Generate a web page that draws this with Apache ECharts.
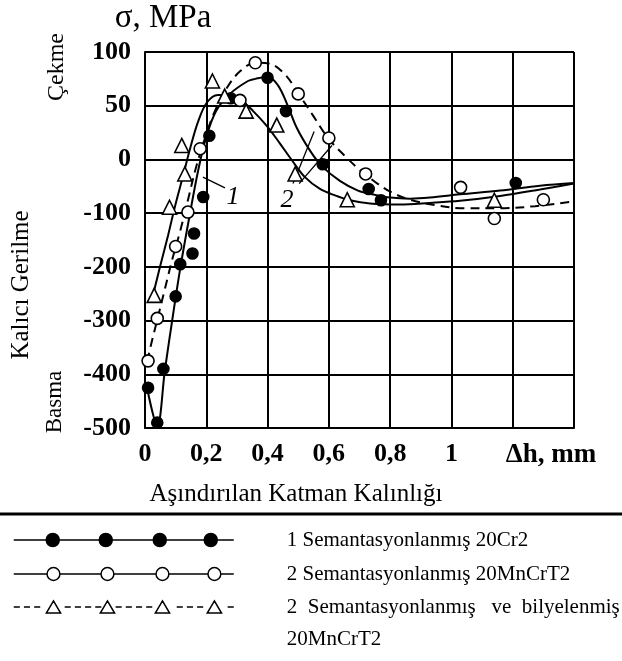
<!DOCTYPE html>
<html>
<head>
<meta charset="utf-8">
<script src="https://cdn.jsdelivr.net/npm/echarts@6/dist/echarts.min.js"></script>
<style>html,body{margin:0;padding:0;background:#fff}#c{width:622px;height:661px}</style>
</head>
<body>
<div id="c"></div>
<script>
// ---------------- data ----------------
const xTickLabels = ['0', '0,2', '0,4', '0,6', '0,8', '1', '', ''];     // at 0,0.2,...,1.4 mm
const yTickValues = [-500, -400, -300, -200, -100, 0, 50, 100];         // evenly spaced on the original axis
const yTickLabels = ['-500', '-400', '-300', '-200', '-100', '0', '50', '100'];

const seriesNames = [
  '1 Semantasyonlanmış 20Cr2',
  '2 Semantasyonlanmış 20MnCrT2',
  '2  Semantasyonlanmış   ve  bilyelenmiş 20MnCrT2'
];
const legendTexts = [
  '1 Semantasyonlanmış 20Cr2',
  '2 Semantasyonlanmış 20MnCrT2',
  ' \n2  Semantasyonlanmış   ve  bilyelenmiş\n20MnCrT2'
];

// measured points [Δh mm, σ MPa]
const cr2Markers = [[0.01,-425],[0.04,-490],[0.06,-390],[0.10,-255],[0.115,-195],[0.155,-175],[0.16,-138],
  [0.19,-70],[0.21,22],[0.28,57],[0.40,76],[0.46,45],[0.58,-9],[0.73,-55],[0.77,-76],[1.21,-44]];
const mncrMarkers = [[0.01,-375],[0.04,-296],[0.10,-162],[0.14,-98],[0.18,10],[0.31,55],[0.36,90],
  [0.50,61],[0.60,20],[0.72,-27],[1.03,-52],[1.14,-110],[1.30,-75]];
const shotMarkers = [[0.03,-253],[0.08,-89],[0.12,13],[0.13,-27],[0.22,73],[0.26,59],[0.33,45],
  [0.43,32],[0.49,-27],[0.66,-75],[1.14,-76]];

// fitted curves [Δh mm, σ MPa]
const cr2Curve = [[0.007,-426],[0.04,-496],[0.065,-392],[0.091,-291],[0.117,-196],[0.147,-100],[0.173,-22],
  [0.199,20],[0.232,45],[0.277,61],[0.336,73],[0.36,75],[0.401,77],[0.434,69],[0.463,52],[0.496,29],
  [0.539,8],[0.578,-13],[0.636,-40],[0.695,-58],[0.751,-66],[0.80,-71],[0.865,-73],[0.93,-71],
  [1.028,-65],[1.159,-58],[1.289,-49],[1.40,-44]];
const mncrCurve = [[0.007,-376],[0.023,-337],[0.042,-294],[0.065,-241],[0.088,-188],[0.114,-135],[0.14,-76],
  [0.166,-16],[0.196,20],[0.228,45],[0.268,67],[0.31,82],[0.359,90],[0.408,89],[0.457,79],[0.499,62],
  [0.548,41],[0.597,20],[0.653,3],[0.702,-20],[0.751,-42],[0.80,-60],[0.865,-75],[0.946,-85],
  [1.044,-91],[1.159,-91],[1.273,-87],[1.40,-78]];
const shotCurve = [[0.026,-253],[0.049,-200],[0.075,-142],[0.098,-87],[0.124,-31],[0.147,10],[0.173,35],
  [0.202,53],[0.238,60],[0.277,59],[0.31,56],[0.353,45],[0.398,31],[0.44,15],[0.48,-2],[0.522,-33],
  [0.571,-55],[0.62,-67],[0.669,-76],[0.734,-82],[0.832,-84],[0.93,-81],[1.028,-77],[1.159,-68],
  [1.289,-56],[1.40,-45]];

// curve annotations (data units)
const curveLabels = [{ text: '1', at: [0.287, -71] }, { text: '2', at: [0.463, -75] }];
const leaderLines = [[[0.261,-53],[0.189,-33]], [[0.483,-45],[0.552,26]], [[0.503,-45],[0.61,13]]];

// ---------------- helpers ----------------
const SERIF = '"Liberation Serif","Times New Roman",serif';
// piecewise-linear mapping of the original (non-uniform) stress axis onto evenly spaced tick slots
function toAxis(v) {
  const t = yTickValues;
  let i = 0;
  if (v >= t[t.length - 1]) i = t.length - 2;
  else { while (i < t.length - 2 && v > t[i + 1]) i++; }
  return i + (v - t[i]) / (t[i + 1] - t[i]);
}
const conv = arr => arr.map(p => [p[0], toAxis(p[1])]);

function circ(cx, cy, r) {
  return `M${cx + r} ${cy} A${r} ${r} 0 1 1 ${cx - r} ${cy} A${r} ${r} 0 1 1 ${cx + r} ${cy} Z `;
}
function legendIcon(kind) {
  const W = 220, cy = 7, cxs = [39, 92, 146, 197];
  let d = '';
  if (kind === 0) {
    d += `M0 ${cy} L${W} ${cy} `;
    cxs.forEach(cx => d += circ(cx, cy, 6.5));
  } else if (kind === 1) {
    const r = 6.3;
    let x0 = 0;
    cxs.forEach(cx => { d += `M${x0} ${cy} L${cx - r} ${cy} `; x0 = cx + r; });
    d += `M${x0} ${cy} L${W - 4} ${cy} `;
    cxs.forEach(cx => d += circ(cx, cy, r));
  } else {
    const hw = 7;
    let x = 0;
    while (x < W - 3) {
      const x2 = Math.min(x + 6, W - 3);
      const blocked = cxs.some(cx => x2 > cx - hw + 1 && x < cx + hw - 1);
      if (!blocked) d += `M${x} ${cy} L${x2} ${cy} `;
      x += 10;
    }
    cxs.forEach(cx => d += `M${cx} 1 L${cx + hw} 13 L${cx - hw} 13 Z `);
  }
  return 'path://' + d;
}

// ---------------- chart ----------------
const chart = echarts.init(document.getElementById('c'), null, { renderer: 'canvas' });

const black = '#000';
const lineDefs = [
  { name: seriesNames[0], data: cr2Curve, type: 'solid' },
  { name: seriesNames[1], data: mncrCurve, type: [9, 6] },
  { name: seriesNames[2], data: shotCurve, type: 'solid' }
];
const markerDefs = [
  { name: seriesNames[0], data: cr2Markers, symbol: 'circle', size: 11, fill: black },
  { name: seriesNames[1], data: mncrMarkers, symbol: 'circle', size: 12, fill: '#fff' },
  { name: seriesNames[2], data: shotMarkers, symbol: 'triangle', size: 14, fill: '#fff' }
];

const series = [];
lineDefs.forEach((d, i) => {
  const s = {
    name: d.name, type: 'line', data: conv(d.data), smooth: 0.35, showSymbol: false,
    lineStyle: { color: black, width: 2, type: d.type }, itemStyle: { color: black },
    z: 3, silent: true, animation: false
  };
  if (i === 0) {
    s.markLine = {
      silent: true, symbol: ['none', 'none'], animation: false,
      lineStyle: { color: black, width: 1.3, type: 'solid' }, label: { show: false },
      data: leaderLines.map(l => [{ coord: [l[0][0], toAxis(l[0][1])] }, { coord: [l[1][0], toAxis(l[1][1])] }])
    };
    s.markPoint = {
      silent: true, symbol: 'circle', symbolSize: 0, animation: false,
      label: { show: true, position: 'inside', color: black, fontFamily: SERIF, fontStyle: 'italic', fontSize: 26 },
      data: curveLabels.map(c => ({ coord: [c.at[0], toAxis(c.at[1])], label: { formatter: c.text } }))
    };
  }
  series.push(s);
});
markerDefs.forEach(d => {
  series.push({
    name: d.name, type: 'scatter', data: conv(d.data), symbol: d.symbol, symbolSize: d.size,
    itemStyle: { color: d.fill, borderColor: black, borderWidth: 1.6, opacity: 1 },
    z: 5, silent: true, animation: false
  });
});

const legendStyles = [
  { color: black, borderColor: black, borderWidth: 1.5 },
  { color: '#fff', borderColor: black, borderWidth: 1.5 },
  { color: '#fff', borderColor: black, borderWidth: 1.5 }
];
const legendTops = [524, 558, 559];
const legends = seriesNames.map((n, i) => ({
  data: [{ name: n, icon: legendIcon(i), itemStyle: legendStyles[i] }],
  left: 13, top: legendTops[i], padding: 0, itemWidth: 220, itemHeight: 14,
  selectedMode: false,
  formatter: () => legendTexts[i],
  textStyle: { fontFamily: SERIF, fontSize: 21, color: black, lineHeight: 32, padding: [0, 0, 0, 48] }
}));

const option = {
  animation: false,
  backgroundColor: '#fff',
  grid: { left: 145, top: 52, width: 429, height: 376, containLabel: false, outerBoundsMode: 'none' },
  xAxis: {
    type: 'value', min: 0, max: 1.4, interval: 0.2,
    axisLine: { show: true, onZero: false, lineStyle: { color: black, width: 2 } },
    axisTick: { show: false },
    splitLine: { show: true, lineStyle: { color: black, width: 2 } },
    axisLabel: {
      margin: 13, color: black, fontFamily: SERIF, fontWeight: 'bold', fontSize: 26,
      showMinLabel: true, showMaxLabel: true,
      formatter: v => xTickLabels[Math.round(v / 0.2)] || ''
    },
    name: 'Δh, mm', nameLocation: 'end', nameGap: -23,
    nameTextStyle: { color: black, fontFamily: SERIF, fontWeight: 'bold', fontSize: 27,
      align: 'center', verticalAlign: 'top', padding: [14, 0, 0, 0] }
  },
  yAxis: {
    type: 'value', min: 0, max: yTickValues.length - 1, interval: 1,
    axisLine: { show: true, onZero: false, lineStyle: { color: black, width: 2 } },
    axisTick: { show: false },
    splitLine: { show: true, lineStyle: { color: black, width: 2 } },
    axisLabel: {
      margin: 14, color: black, fontFamily: SERIF, fontWeight: 'bold', fontSize: 26,
      showMinLabel: true, showMaxLabel: true,
      formatter: v => yTickLabels[Math.round(v)] || ''
    }
  },
  legend: legends,
  series: series,
  graphic: [
    { type: 'text', x: 163, y: 18, style: { text: 'σ, MPa', font: `33px ${SERIF}`, fill: black, align: 'center', verticalAlign: 'middle', textAlign: 'center', textVerticalAlign: 'middle' } },
    { type: 'text', x: 57, y: 67, rotation: Math.PI / 2, style: { text: 'Çekme', font: `24px ${SERIF}`, fill: black, align: 'center', verticalAlign: 'middle', textAlign: 'center', textVerticalAlign: 'middle' } },
    { type: 'text', x: 21, y: 285, rotation: Math.PI / 2, style: { text: 'Kalıcı Gerilme', font: `25px ${SERIF}`, fill: black, align: 'center', verticalAlign: 'middle', textAlign: 'center', textVerticalAlign: 'middle' } },
    { type: 'text', x: 55, y: 402, rotation: Math.PI / 2, style: { text: 'Basma', font: `23px ${SERIF}`, fill: black, align: 'center', verticalAlign: 'middle', textAlign: 'center', textVerticalAlign: 'middle' } },
    { type: 'text', x: 296, y: 494, style: { text: 'Aşındırılan Katman Kalınlığı', font: `25px ${SERIF}`, fill: black, align: 'center', verticalAlign: 'middle', textAlign: 'center', textVerticalAlign: 'middle' } },
    { type: 'line', shape: { x1: 0, y1: 514, x2: 622, y2: 514 }, style: { stroke: black, lineWidth: 3 } }
  ]
};
chart.setOption(option);
</script>
</body>
</html>
